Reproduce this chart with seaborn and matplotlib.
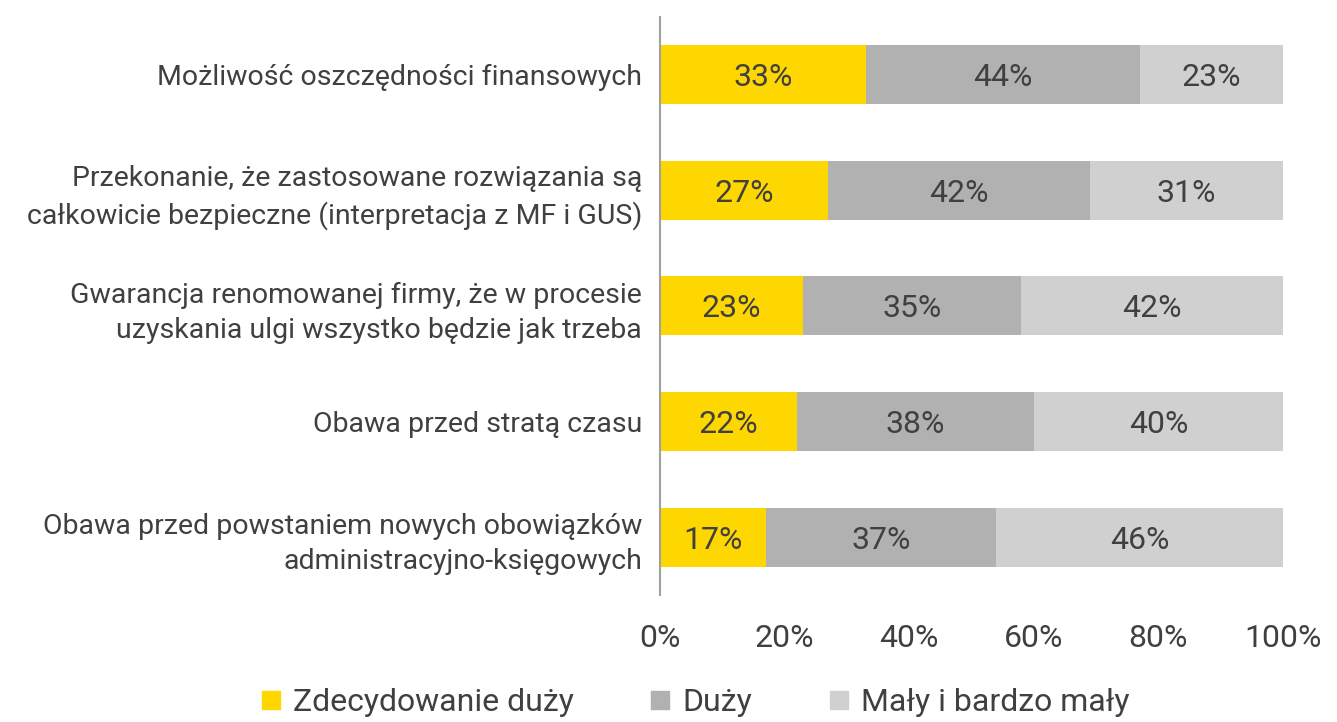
import matplotlib
matplotlib.use("Agg")
import matplotlib.pyplot as plt
import seaborn as sns
import pandas as pd
import numpy as np
from matplotlib.lines import Line2D

categories = [
    "Możliwość oszczędności finansowych",
    "Przekonanie, że zastosowane rozwiązania są\ncałkowicie bezpieczne (interpretacja z MF i GUS)",
    "Gwarancja renomowanej firmy, że w procesie\nuzyskania ulgi wszystko będzie jak trzeba",
    "Obawa przed stratą czasu",
    "Obawa przed powstaniem nowych obowiązków\nadministracyjno-księgowych",
]
zdecydowanie = [33, 27, 23, 22, 17]
duzy = [44, 42, 35, 38, 37]
maly = [23, 31, 42, 40, 46]
series_names = ["Zdecydowanie duży", "Duży", "Mały i bardzo mały"]
colors = ["#FFD700", "#B1B1B1", "#D0D0D0"]
xticks = [0, 20, 40, 60, 80, 100]

sns.set_theme(style="white")
plt.rcParams['font.family'] = ['Roboto', 'DejaVu Sans']
text_color = "#404040"

df = pd.DataFrame({"cat": categories, "z": zdecydowanie, "d": duzy, "m": maly})
df["c1"] = df["z"]
df["c2"] = df["z"] + df["d"]
df["c3"] = df["z"] + df["d"] + df["m"]

fig = plt.figure(figsize=(13.37, 7.22), dpi=100)
ax = fig.add_axes([0.4936, 0.176, 0.466, 0.801])

for col, color in zip(["c3", "c2", "c1"], colors[::-1]):
    sns.barplot(data=df, x=col, y="cat", orient="h", color=color, width=0.51,
                saturation=1, ax=ax, edgecolor="none", linewidth=0)

for i, row in df.iterrows():
    starts = [0, row["c1"], row["c2"]]
    vals = [row["z"], row["d"], row["m"]]
    for s, v in zip(starts, vals):
        ax.text(s + v / 2, i, f"{v}%", ha="center", va="center_baseline",
                fontsize=23, color=text_color)

ax.set_xlim(0, 100)
ax.set_ylim(4.5, -0.5)
ax.set_xticks(xticks)
ax.set_xticklabels([f"{t}%" for t in xticks])
ax.set_xlabel("")
ax.set_ylabel("")
ax.tick_params(axis="x", length=0, pad=21, labelsize=23, labelcolor=text_color)
ax.tick_params(axis="y", length=0, pad=13, labelsize=20.5, labelcolor=text_color)
for lab in ax.get_yticklabels():
    lab.set_horizontalalignment("right")
    lab.set_multialignment("right")
    lab.set_linespacing(1.38)
for side in ["top", "right", "bottom"]:
    ax.spines[side].set_visible(False)
ax.spines["left"].set_color("#A0A0A0")
ax.spines["left"].set_linewidth(1.5)

handles = [Line2D([0], [0], marker="s", linestyle="none", markersize=13,
                  markerfacecolor=c, markeredgecolor=c) for c in colors]
leg = fig.legend(handles, series_names, loc="center", bbox_to_anchor=(0.519, 0.027),
                 ncol=3, frameon=False, fontsize=23, handletextpad=0.3,
                 columnspacing=2.3, handlelength=0.8, borderpad=0.1)
for t in leg.get_texts():
    t.set_color(text_color)

fig.savefig("out.png", dpi=100)
